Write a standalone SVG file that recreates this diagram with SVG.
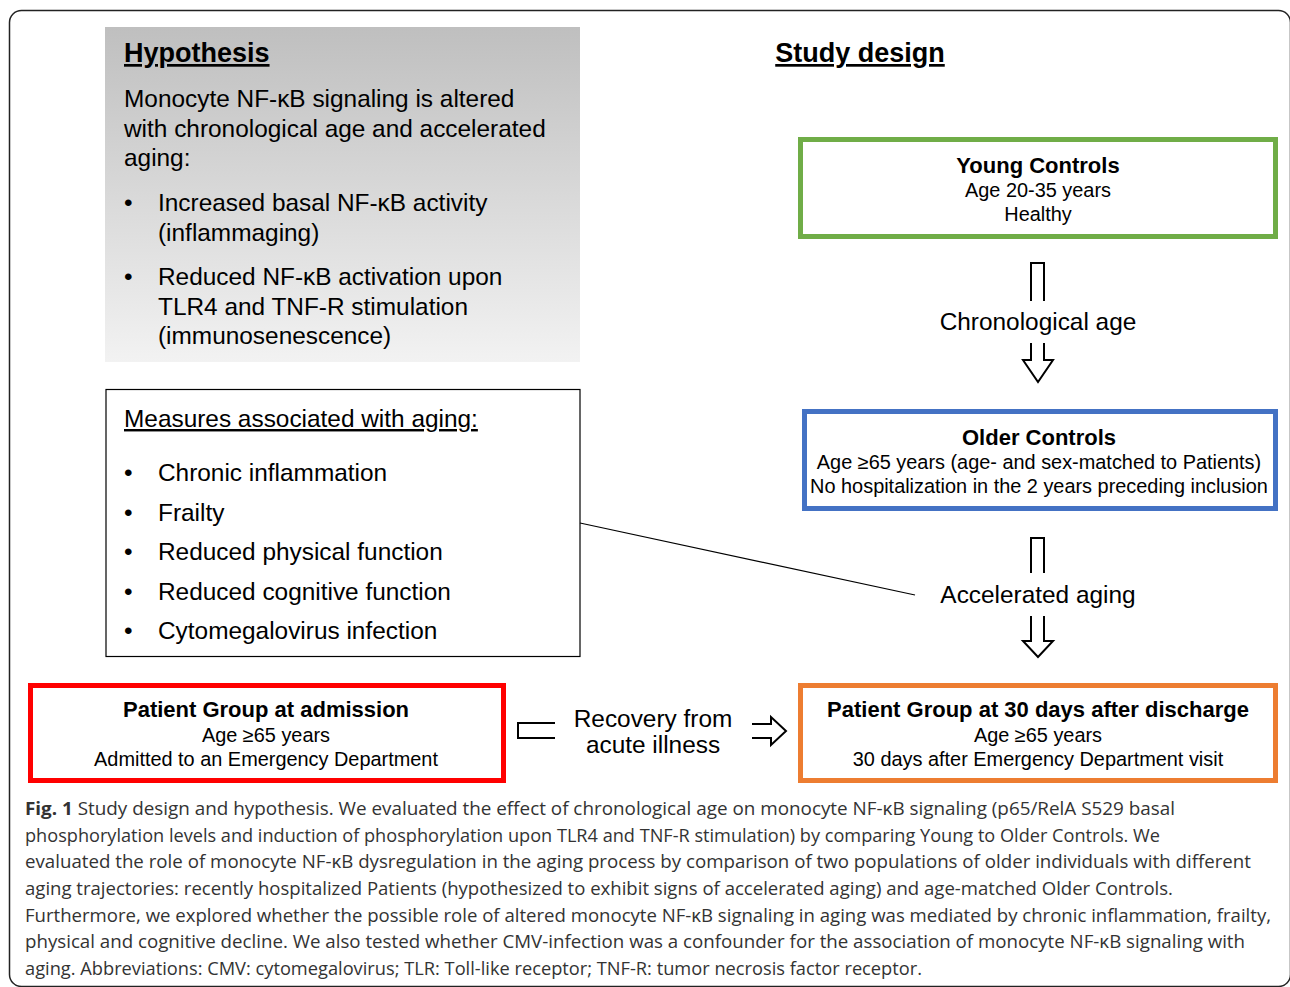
<svg xmlns="http://www.w3.org/2000/svg" width="1290" height="987" viewBox="0 0 1290 987">
<style>
.t{font-family:"Liberation Sans",Arial,sans-serif;fill:#000}
.b{font-weight:bold;font-size:22px}
.h{font-size:27px;font-weight:bold;text-decoration:underline}
.m{font-size:24.4px}
.n{font-size:19.9px}
.c{font-family:"Open Sans","Noto Sans",sans-serif;font-size:18px;fill:#333}
.arr{fill:#fff;stroke:#000;stroke-width:2;stroke-linejoin:miter}
</style>
<defs>
<linearGradient id="gr" x1="0" y1="0" x2="0" y2="1">
<stop offset="0" stop-color="#bfbfbf"/>
<stop offset="1" stop-color="#f2f2f2"/>
</linearGradient>
</defs>
<rect x="9.5" y="10.5" width="1281" height="976" rx="12" fill="#fff" stroke="#222" stroke-width="1.5"/>

<g id="hypothesis">
<rect x="105" y="27" width="475" height="335" fill="url(#gr)"/>
<text class="t h" x="124" y="62">Hypothesis</text>
<text class="t m" x="124" y="107">Monocyte NF-κB signaling is altered</text>
<text class="t m" x="124" y="137">with chronological age and accelerated</text>
<text class="t m" x="124" y="166">aging:</text>
<text class="t m" x="124" y="211">•</text>
<text class="t m" x="158" y="211">Increased basal NF-κB activity</text>
<text class="t m" x="158" y="241">(inflammaging)</text>
<text class="t m" x="124" y="285">•</text>
<text class="t m" x="158" y="285">Reduced NF-κB activation upon</text>
<text class="t m" x="158" y="315">TLR4 and TNF-R stimulation</text>
<text class="t m" x="158" y="344">(immunosenescence)</text>
</g>

<g id="measures">
<rect x="106" y="389.5" width="474" height="267" fill="#fff" stroke="#000" stroke-width="1.2"/>
<text class="t m" x="124" y="427" text-decoration="underline">Measures associated with aging:</text>
<text class="t m" x="124" y="481">•</text><text class="t m" x="158" y="481">Chronic inflammation</text>
<text class="t m" x="124" y="521">•</text><text class="t m" x="158" y="521">Frailty</text>
<text class="t m" x="124" y="560">•</text><text class="t m" x="158" y="560">Reduced physical function</text>
<text class="t m" x="124" y="600">•</text><text class="t m" x="158" y="600">Reduced cognitive function</text>
<text class="t m" x="124" y="639">•</text><text class="t m" x="158" y="639">Cytomegalovirus infection</text>
</g>

<g id="study-design">
<text class="t h" x="860" y="62" text-anchor="middle">Study design</text>
</g>

<g id="young">
<rect x="800.5" y="139.5" width="475" height="97" fill="#fff" stroke="#70ad47" stroke-width="5"/>
<text class="t b" x="1038" y="173" text-anchor="middle">Young Controls</text>
<text class="t n" x="1038" y="197" text-anchor="middle">Age 20-35 years</text>
<text class="t n" x="1038" y="221" text-anchor="middle">Healthy</text>
</g>

<g id="older">
<rect x="804.5" y="411.5" width="471" height="97" fill="#fff" stroke="#4472c4" stroke-width="5"/>
<text class="t b" x="1039" y="445" text-anchor="middle">Older Controls</text>
<text class="t n" x="1039" y="469" text-anchor="middle">Age ≥65 years (age- and sex-matched to Patients)</text>
<text class="t n" x="1039" y="493" text-anchor="middle">No hospitalization in the 2 years preceding inclusion</text>
</g>

<g id="patient-admission">
<rect x="30.5" y="685.5" width="473" height="95" fill="#fff" stroke="#ff0000" stroke-width="5"/>
<text class="t b" x="266" y="717" text-anchor="middle">Patient Group at admission</text>
<text class="t n" x="266" y="742" text-anchor="middle">Age ≥65 years</text>
<text class="t n" x="266" y="766" text-anchor="middle">Admitted to an Emergency Department</text>
</g>

<g id="patient-30d">
<rect x="800.5" y="685.5" width="475" height="95" fill="#fff" stroke="#ed7d31" stroke-width="5"/>
<text class="t b" x="1038" y="717" text-anchor="middle">Patient Group at 30 days after discharge</text>
<text class="t n" x="1038" y="742" text-anchor="middle">Age ≥65 years</text>
<text class="t n" x="1038" y="766" text-anchor="middle">30 days after Emergency Department visit</text>
</g>

<g id="connectors">
<path class="arr" d="M1031,301 V263 H1044 V301"/>
<text class="t m" x="1038" y="330" text-anchor="middle">Chronological age</text>
<path class="arr" d="M1031,343 V360 H1023 L1038,382 L1053,360 H1044 V343"/>
<path class="arr" d="M1031,573 V538 H1044 V573"/>
<text class="t m" x="1038" y="603" text-anchor="middle">Accelerated aging</text>
<path class="arr" d="M1031,616 V641 H1023 L1038,657 L1053,641 H1044 V616"/>
<path class="arr" d="M555,723 H518 V738 H555"/>
<text class="t m" x="653" y="727" text-anchor="middle">Recovery from</text>
<text class="t m" x="653" y="753" text-anchor="middle">acute illness</text>
<path class="arr" d="M752,724 H771 V717 L786,731 L771,745 V738 H752"/>
<line x1="580" y1="523" x2="915" y2="595" stroke="#000" stroke-width="1.2"/>
</g>

<g id="caption">
<text class="c" x="25" y="815" textLength="1150" lengthAdjust="spacingAndGlyphs"><tspan font-weight="bold">Fig. 1</tspan> Study design and hypothesis. We evaluated the effect of chronological age on monocyte NF-κB signaling (p65/RelA S529 basal</text>
<text class="c" x="25" y="842" textLength="1135" lengthAdjust="spacingAndGlyphs">phosphorylation levels and induction of phosphorylation upon TLR4 and TNF-R stimulation) by comparing Young to Older Controls. We</text>
<text class="c" x="25" y="868" textLength="1226" lengthAdjust="spacingAndGlyphs">evaluated the role of monocyte NF-κB dysregulation in the aging process by comparison of two populations of older individuals with different</text>
<text class="c" x="25" y="895" textLength="1148" lengthAdjust="spacingAndGlyphs">aging trajectories: recently hospitalized Patients (hypothesized to exhibit signs of accelerated aging) and age-matched Older Controls.</text>
<text class="c" x="25" y="922" textLength="1246" lengthAdjust="spacingAndGlyphs">Furthermore, we explored whether the possible role of altered monocyte NF-κB signaling in aging was mediated by chronic inflammation, frailty,</text>
<text class="c" x="25" y="948" textLength="1220" lengthAdjust="spacingAndGlyphs">physical and cognitive decline. We also tested whether CMV-infection was a confounder for the association of monocyte NF-κB signaling with</text>
<text class="c" x="25" y="975" textLength="897" lengthAdjust="spacingAndGlyphs">aging. Abbreviations: CMV: cytomegalovirus; TLR: Toll-like receptor; TNF-R: tumor necrosis factor receptor.</text>
</g>
</svg>
